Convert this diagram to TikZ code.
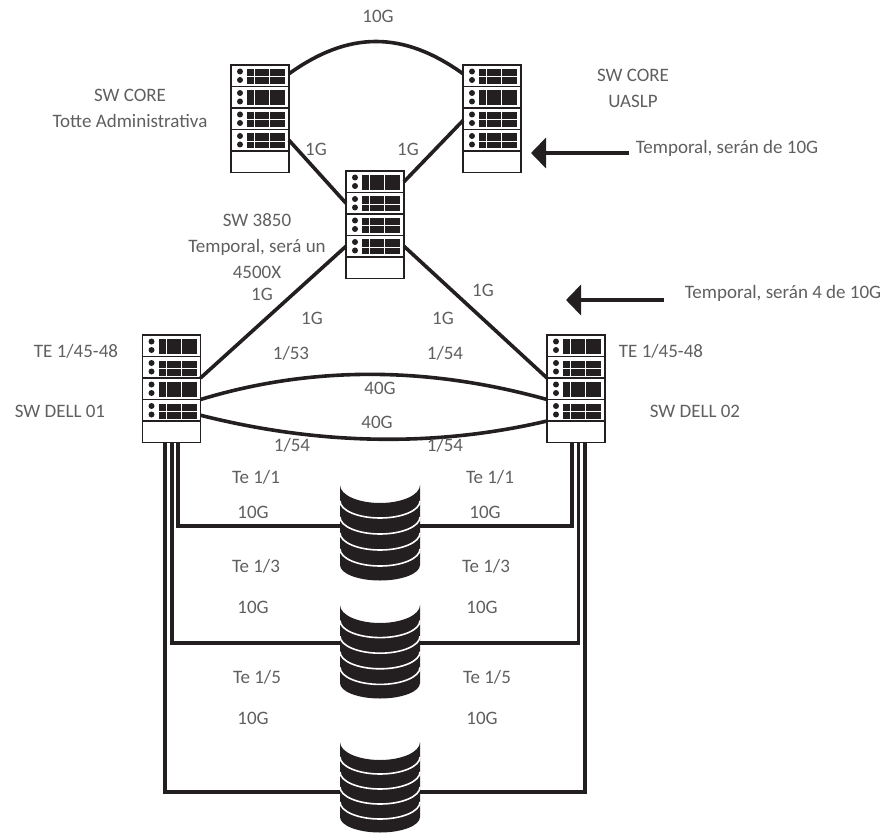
\documentclass[tikz,border=0pt]{standalone}
\usepackage{fontspec}
\setmainfont{Carlito}
\usetikzlibrary{arrows.meta,calc}
\definecolor{ink}{RGB}{35,31,32}
\definecolor{lblgray}{RGB}{95,95,97}
\tikzset{
  rackbox/.style={draw=ink,line width=1.4pt,minimum width=58pt,minimum height=107.5pt,inner sep=0pt,outer sep=0pt,anchor=north west},
  rowbox/.style={draw=ink,line width=1.4pt,minimum width=58pt,minimum height=21.5pt,inner sep=0pt,outer sep=0pt,anchor=north west},
  cable/.style={draw=ink,line width=3.6pt},
  lbl/.style={text=lblgray,font=\fontsize{19}{26}\selectfont,align=center,inner sep=0pt},
  notearrow/.style={draw=ink,line width=4.4pt,-{Triangle[length=15pt,width=30pt]}}
}
% one row of a rack, #4 is 0 for plain blocks and 1 for split ones
\newcommand{\rackrow}[4]{
  \node[rowbox] (#1) at (#2,#3) {};
  \fill[ink] (#2+9,#3+6.5) circle (3pt) (#2+9,#3+15) circle (3pt);
  \fill[ink] (#2+16,#3+4) rectangle (#2+54,#3+19);
  \draw[white,line width=0.9pt] (#2+23.5,#3+4) -- (#2+23.5,#3+19) (#2+38.5,#3+4) -- (#2+38.5,#3+19);
  \ifnum#4=1 \draw[white,line width=0.9pt] (#2+16,#3+11.5) -- (#2+54,#3+11.5); \fi
}
\newcommand{\rack}[7]{
  \node[rackbox] (#1) at (#2,#3) {};
  \rackrow{#1-1}{#2}{#3}{#4}
  \rackrow{#1-2}{#2}{#3+21.5}{#5}
  \rackrow{#1-3}{#2}{#3+43}{#6}
  \rackrow{#1-4}{#2}{#3+64.5}{#7}
}
% name, top of the body, height of the link, height of the side
\newcommand{\disco}[4]{
  \node[minimum width=80pt,minimum height=2pt,inner sep=0pt,outer sep=0pt] (#1) at (380,#3) {};
  \fill[ink] (340,#2) arc[start angle=180,end angle=0,x radius=40,y radius=18] -- (420,#2+#4)
    arc[start angle=0,end angle=180,x radius=40,y radius=15.5] -- cycle;
  \foreach \k in {1,2,3,4}
    \draw[white,line width=1.6pt] (340,#2+\k*#4/5) arc[start angle=180,end angle=0,x radius=40,y radius=17];
}
\begin{document}
\begin{tikzpicture}[x=1pt,y=-1pt]
  \useasboundingbox (0,0) rectangle (888,834);
  % racks
  \rack{coreA}{231}{65}{1}{0}{1}{1}
  \rack{coreB}{463}{65}{1}{0}{1}{1}
  \rack{mid}{346}{171}{0}{1}{1}{1}
  \rack{dellA}{142.5}{335}{0}{1}{0}{1}
  \rack{dellB}{547}{335}{0}{1}{0}{1}
  % links between racks
  \draw[cable] ([yshift=2pt]coreA-1.east) .. controls +(60,-43) and +(-60,-43) .. ([yshift=2pt]coreB-1.west);
  \draw[cable] (coreA-4.east) -- (mid-2.west);
  \draw[cable] ([yshift=9pt]coreB-4.north west) -- (mid-1.east);
  \draw[cable] (mid-4.west) -- (dellA-3.north east);
  \draw[cable] (mid-4.east) -- (dellB-3.north west);
  \draw[cable] (dellA-4.north east) .. controls +(115,-35) and +(-115,-32) .. (dellB-4.north west);
  \draw[cable] ([yshift=-5pt]dellA-4.east) .. controls +(115,29) and +(-115,27) .. (dellB-4.south west);
  % storage
  \disco{dskA}{485}{526}{80}
  \disco{dskB}{605}{643}{78}
  \disco{dskC}{742}{792}{75}
  \draw[cable] ([xshift=6.5pt]dellA.south) |- (dskA.west);
  \draw[cable] ([xshift=0.5pt]dellA.south) |- (dskB.west);
  \draw[cable] ([xshift=-6.5pt]dellA.south) |- (dskC.west);
  \draw[cable] ([xshift=-4pt]dellB.south) |- (dskA.east);
  \draw[cable] ([xshift=2.5pt]dellB.south) |- (dskB.east);
  \draw[cable] ([xshift=9pt]dellB.south) |- (dskC.east);
  % notes
  \coordinate (tipA) at (531,153);
  \coordinate (tipB) at (566,300);
  \draw[notearrow] (629,153) -- (tipA);
  \draw[notearrow] (664,300) -- (tipB);
  % labels
  \foreach \x/\y/\t [count=\i] in {378/16/10G,130/108/{SW CORE\\Totte Administrativa},633/88.5/{SW CORE\\UASLP},
      316/149/1G,408/149/1G,727/148/{Temporal, serán de 10G},257/246/{SW 3850\\Temporal, será un\\4500X},
      262/294/1G,312/318/1G,291/353/{1/53},483/290/1G,443/318/1G,445/353/{1/54},783/293/{Temporal, serán 4 de 10G},
      76/351/{TE 1/45-48},661/351/{TE 1/45-48},60/411/SW DELL 01,695/411/SW DELL 02,
      380/388/40G,377/422/40G,292/445/{1/54},445/445/{1/54},
      256/477/{Te 1/1},490/477/{Te 1/1},253/512/10G,485/512/10G,
      256/566/{Te 1/3},486/566/{Te 1/3},253/607/10G,482/607/10G,
      257/677/{Te 1/5},487/677/{Te 1/5},253/718/10G,482/718/10G}{
    \node[lbl] (lbl\i) at (\x,\y) {\t};
  }
\end{tikzpicture}
\end{document}
